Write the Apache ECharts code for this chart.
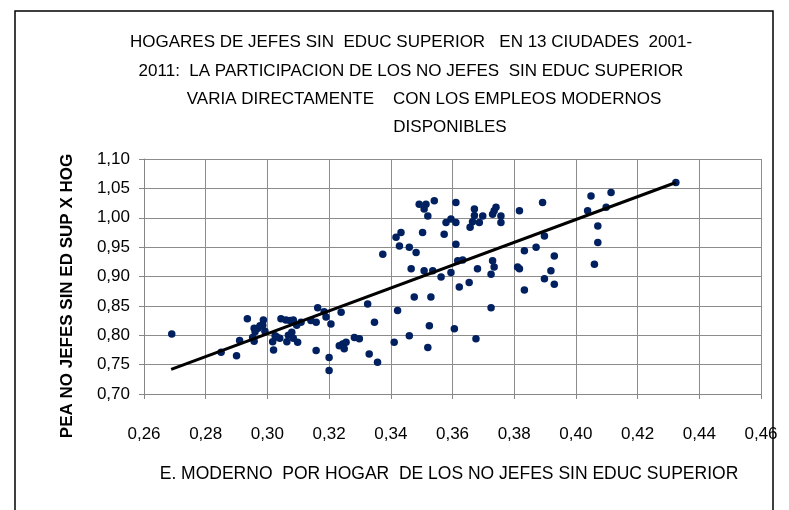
<!DOCTYPE html>
<html>
<head>
<meta charset="utf-8">
<title>Hogares de jefes sin educ superior</title>
<script src="https://cdn.jsdelivr.net/npm/echarts@6/dist/echarts.min.js"></script>
<style>
  html, body { margin: 0; padding: 0; background: #fff; }
  #chart { width: 789px; height: 510px; }
</style>
</head>
<body>
<div id="chart"></div>
<script>
// E. moderno por hogar (x) y PEA no jefes sin ed sup x hog (y)
var xVals = [
  0.269, 0.285, 0.290, 0.291, 0.2935, 0.2957, 0.297, 0.296, 0.2952, 0.2987,
  0.2985, 0.2976, 0.2992, 0.2957, 0.3017, 0.3020, 0.3044, 0.3025, 0.3030, 0.3040,
  0.3060, 0.3073, 0.3084, 0.3068, 0.3079, 0.3084, 0.3063, 0.3095, 0.3098, 0.3109,
  0.3141, 0.3158, 0.3163, 0.3184, 0.3190, 0.3206, 0.3158, 0.3200, 0.3200, 0.3239,
  0.3233, 0.3244, 0.3255, 0.3249, 0.3282, 0.3298, 0.3325, 0.3347, 0.3330, 0.3357,
  0.3411, 0.3422, 0.3460, 0.3476, 0.3530, 0.3520, 0.3525, 0.3606, 0.3622, 0.3374,
  0.3417, 0.3433, 0.3428, 0.3460, 0.3482, 0.3503, 0.3492, 0.3514, 0.3508, 0.3520,
  0.3541, 0.3573, 0.3579, 0.3595, 0.3611, 0.3611, 0.3611, 0.3466, 0.3508, 0.3536,
  0.3563, 0.3595, 0.3617, 0.3633, 0.3671, 0.3671, 0.3665, 0.3657, 0.3687, 0.3698,
  0.3730, 0.3735, 0.3741, 0.3757, 0.3757, 0.3817, 0.3892, 0.3654, 0.3681, 0.3730,
  0.3735, 0.3725, 0.3811, 0.3817, 0.3833, 0.3871, 0.3898, 0.3930, 0.3919, 0.3898,
  0.3930, 0.3833, 0.3725, 0.3676, 0.4049, 0.4114, 0.4038, 0.4098, 0.4071, 0.4071,
  0.4060, 0.4324
];
var yVals = [
  0.802, 0.771, 0.765, 0.791, 0.828, 0.812, 0.812, 0.806, 0.796, 0.826,
  0.817, 0.816, 0.807, 0.790, 0.789, 0.775, 0.828, 0.799, 0.797, 0.795,
  0.826, 0.825, 0.826, 0.800, 0.805, 0.795, 0.789, 0.817, 0.788, 0.822,
  0.825, 0.822, 0.847, 0.840, 0.831, 0.819, 0.774, 0.762, 0.740, 0.839,
  0.782, 0.785, 0.788, 0.777, 0.796, 0.794, 0.853, 0.822, 0.768, 0.754,
  0.788, 0.842, 0.799, 0.865, 0.865, 0.779, 0.816, 0.811, 0.882, 0.938,
  0.967, 0.975, 0.952, 0.950, 0.941, 0.975, 1.023, 1.023, 1.015, 1.003,
  1.029, 0.972, 0.992, 0.998, 0.992, 1.026, 0.955, 0.913, 0.910, 0.910,
  0.899, 0.907, 0.927, 0.928, 1.015, 1.004, 0.993, 0.984, 0.992, 1.003,
  1.006, 1.012, 1.018, 1.003, 0.992, 1.012, 1.026, 0.890, 0.913, 0.927,
  0.916, 0.904, 0.916, 0.913, 0.944, 0.950, 0.969, 0.935, 0.910, 0.896,
  0.887, 0.877, 0.847, 0.794, 1.037, 1.043, 1.012, 1.018, 0.986, 0.958,
  0.921, 1.060
];
// linea de tendencia (extremos)
var trendX = [0.2688, 0.4324];
var trendY = [0.742, 1.060];

var titleLines = [
  "HOGARES DE JEFES SIN  EDUC SUPERIOR   EN 13 CIUDADES  2001-",
  "2011:  LA PARTICIPACION DE LOS NO JEFES  SIN EDUC SUPERIOR",
  "VARIA DIRECTAMENTE    CON LOS EMPLEOS MODERNOS",
  "DISPONIBLES"
];
var xName = "E. MODERNO  POR HOGAR  DE LOS NO JEFES SIN EDUC SUPERIOR";
var yName = "PEA NO JEFES SIN ED SUP X HOG";

var pts = [];
for (var i = 0; i < xVals.length; i++) {
  pts.push([xVals[i], yVals[i]]);
}
var trend = [[trendX[0], trendY[0]], [trendX[1], trendY[1]]];

var FONT = '"Liberation Sans", Arial, sans-serif';
function comma(v) {
  return v.toFixed(2).replace(".", ",");
}

var chart = echarts.init(document.getElementById("chart"));

var titleX = [411, 411, 424, 450];
var titleY = [42, 71, 99, 127];
var graphics = [
  {
    type: "rect",
    shape: { x: 15, y: 11, width: 758, height: 530 },
    style: { fill: "none", stroke: "#000", lineWidth: 1.5 },
    silent: true
  },
  {
    type: "text",
    x: 67, y: 296, rotation: Math.PI / 2,
    style: {
      text: yName, fill: "#000",
      font: "bold 17px " + FONT,
      align: "center", verticalAlign: "middle"
    }
  },
  {
    type: "text",
    x: 449, y: 474,
    style: {
      text: xName, fill: "#000",
      font: "17.5px " + FONT,
      align: "center", verticalAlign: "middle"
    }
  }
];
for (var t = 0; t < titleLines.length; t++) {
  graphics.push({
    type: "text",
    x: titleX[t], y: titleY[t],
    style: {
      text: titleLines[t], fill: "#000",
      font: "17px " + FONT,
      align: "center", verticalAlign: "middle"
    }
  });
}

chart.setOption({
  animation: false,
  backgroundColor: "#fff",
  graphic: graphics,
  grid: {
    left: 144,
    right: 28,
    top: 159,
    bottom: 116
  },
  xAxis: {
    type: "value",
    min: 0.26,
    max: 0.46,
    interval: 0.02,
    axisLine: { show: true, lineStyle: { color: "#868686", width: 1 } },
    axisTick: { show: true, inside: false, length: 5, lineStyle: { color: "#868686" } },
    axisLabel: {
      margin: 32,
      color: "#000",
      fontSize: 17,
      fontFamily: FONT,
      formatter: comma
    },
    splitLine: { show: true, lineStyle: { color: "#8c8c8c", width: 1 } }
  },
  yAxis: {
    type: "value",
    min: 0.70,
    max: 1.10,
    interval: 0.05,
    axisLine: { show: true, lineStyle: { color: "#868686", width: 1 } },
    axisTick: { show: true, inside: false, length: 5, lineStyle: { color: "#868686" } },
    axisLabel: {
      margin: 14,
      color: "#000",
      fontSize: 17,
      fontFamily: FONT,
      formatter: comma
    },
    splitLine: { show: true, lineStyle: { color: "#8c8c8c", width: 1 } }
  },
  series: [
    {
      name: "datos",
      type: "scatter",
      data: pts,
      symbol: "circle",
      symbolSize: 7.5,
      itemStyle: { color: "#002060", opacity: 1 },
      z: 3
    },
    {
      name: "tendencia",
      type: "line",
      data: trend,
      symbol: "none",
      lineStyle: { color: "#000", width: 3 },
      z: 4
    }
  ]
});
</script>
</body>
</html>
